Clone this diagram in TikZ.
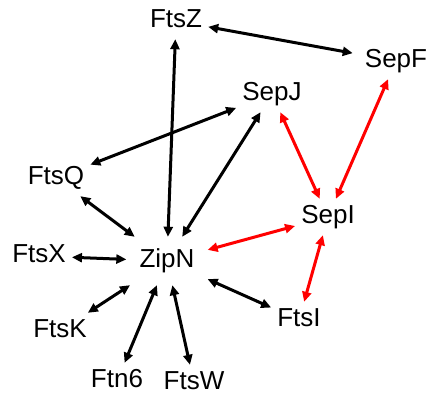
\documentclass[tikz,border=0pt]{standalone}
\usepackage{fontspec}
\setmainfont{Liberation Sans}
\usetikzlibrary{arrows.meta}
\tikzset{
  lbl/.style={anchor=base, inner sep=6pt, text height=19pt, text depth=5pt, font=\fontsize{26}{30}\selectfont},
  blk/.style={{Triangle[length=10pt,width=9pt]}-{Triangle[length=10pt,width=9pt]}, line width=3pt, black},
  rd/.style={{Triangle[length=10pt,width=9pt]}-{Triangle[length=10pt,width=9pt]}, line width=3pt, red},
}
\begin{document}
\begin{tikzpicture}[x=1pt,y=-1pt]
\useasboundingbox (0,0) rectangle (429,395);
\node[lbl] (FtsZ) at (176,28) {FtsZ};
\node[lbl, inner xsep=12pt] (SepF) at (396,68) {SepF};
\node[lbl] (SepJ) at (272,101) {SepJ};
\node[lbl] (FtsQ) at (56,185) {FtsQ};
\node[lbl] (SepI) at (328,224) {SepI};
\node[lbl] (FtsX) at (39,263) {FtsX};
\node[lbl, inner xsep=13pt, inner ysep=12pt] (ZipN) at (167,268) {ZipN};
\node[lbl] (FtsK) at (60,338) {FtsK};
\node[lbl] (FtsI) at (299,327) {FtsI};
\node[lbl] (Ftn6) at (117,388) {Ftn6};
\node[lbl] (FtsW) at (194,390) {FtsW};
\draw[blk] (FtsZ) -- (SepF);
\draw[blk] (FtsZ) -- (ZipN);
\draw[blk] (SepJ) -- (FtsQ);
\draw[blk] (SepJ) -- (ZipN);
\draw[blk] (FtsQ) -- (ZipN);
\draw[blk] (FtsX) -- (ZipN);
\draw[blk] (FtsK) -- (ZipN);
\draw[blk] (Ftn6) -- (ZipN);
\draw[blk] (FtsW) -- (ZipN);
\draw[blk] (FtsI) -- (ZipN);
\draw[rd] (SepF) -- (SepI);
\draw[rd] (SepJ) -- (SepI);
\draw[rd] (SepI) -- (ZipN);
\draw[rd] (SepI) -- (FtsI);
\end{tikzpicture}
\end{document}
